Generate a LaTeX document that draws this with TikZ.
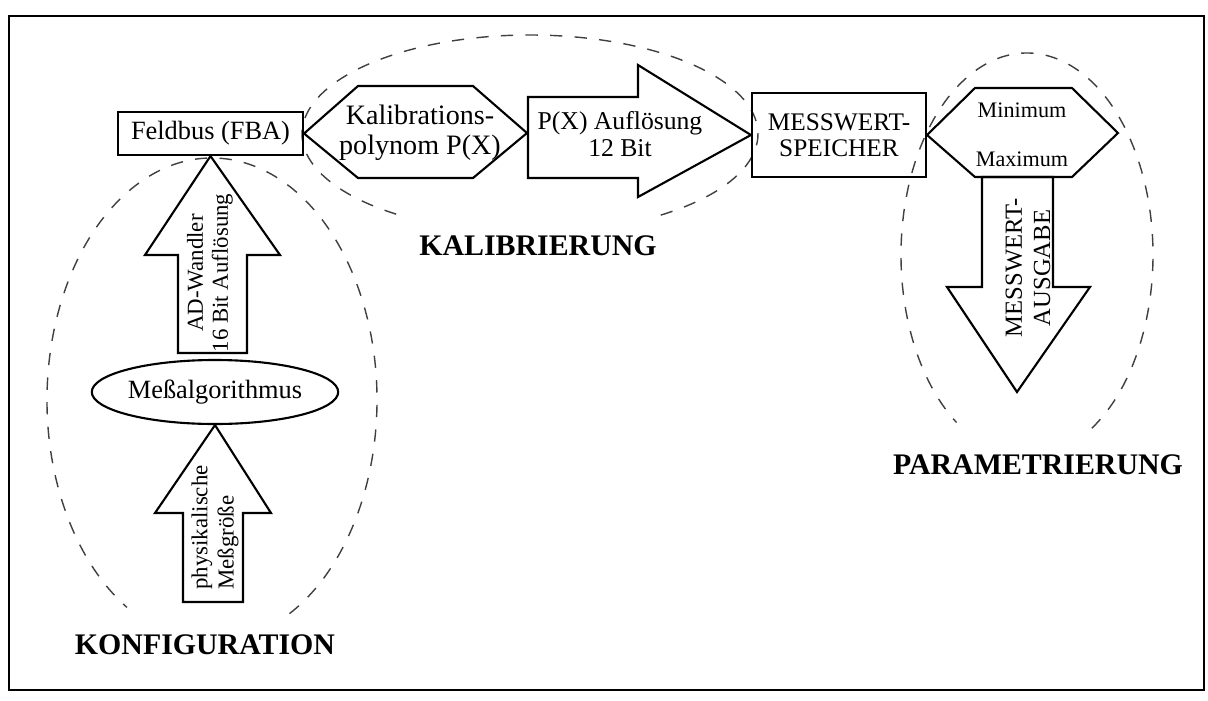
\documentclass[tikz,border=0pt]{standalone}
\usepackage{fontspec}
\setmainfont{Liberation Serif}
\usetikzlibrary{shapes.geometric}
\newcommand{\sz}[2]{\fontsize{#1}{#2}\selectfont}
\tikzstyle{blk} = [draw, line width=0.6pt, line join=miter]
\tikzstyle{boxnode} = [rectangle, draw, line width=0.6pt, inner sep=0pt, align=center]
\tikzstyle{txt} = [inner sep=0pt, align=center]
\tikzstyle{grp} = [draw=black!75, line width=0.4pt, dash pattern=on 3.5pt off 3.5pt]
\tikzstyle{lbl} = [inner sep=0pt, font=\bfseries\sz{8.5}{10}]

\begin{document}
\begin{tikzpicture}
  \useasboundingbox (0, 0) rectangle (12.08, 7);
  \draw[line width=0.6pt] (0.09, 0.10) rectangle (12.04, 6.84);
  % dashed groups, open where the label sits
  \foreach \cx/\cy/\rx/\ry/\a/\b in {2.12/3.00/1.65/2.42/-62/239, 5.30/5.66/2.28/0.99/-55/235, 10.27/4.45/1.26/2.02/-59/236} {
    \draw[grp] (\cx, \cy) ++(\a:\rx cm and \ry cm) arc[start angle=\a, end angle=\b, x radius=\rx cm, y radius=\ry cm];
  }
  \node[lbl] (konf) at (2.05, 0.55) {KONFIGURATION};
  \node[lbl] (kalib) at (5.38, 4.54) {KALIBRIERUNG};
  \node[lbl] (param) at (10.38, 2.35) {PARAMETRIERUNG};

  % top row
  \node[boxnode, minimum width=1.85cm, minimum height=0.43cm, font=\sz{7.5}{8}] (feld) at (2.105, 5.665) {Feldbus (FBA)};
  \draw[blk] (feld.east) -- (3.58, 6.14) -- (4.73, 6.14) -- (5.27, 5.67) -- (4.73, 5.22) -- (3.58, 5.22) -- cycle;
  \node[txt, font=\sz{8}{8.5}] (kal) at (4.20, 5.675) {Kalibrations-\\polynom P(X)};
  \node[boxnode, minimum width=1.74cm, minimum height=0.84cm, font=\sz{7.2}{7.3}] (mess) at (8.39, 5.65) {MESSWERT-\\SPEICHER};
  \draw[blk] (5.28, 6.03) -- (6.38, 6.03) -- (6.38, 6.35) -- (mess.west) -- (6.38, 5.03) -- (6.38, 5.22) -- (5.28, 5.22) -- cycle;
  \node[txt, font=\sz{7.3}{7.8}] (aufl) at (6.20, 5.66) {P(X) Auflösung\\12 Bit};
  \draw[blk] (mess.east) -- (9.75, 6.12) -- (10.72, 6.12) -- (11.18, 5.67) -- (10.72, 5.23) -- (9.75, 5.23) -- cycle;
  \node[txt, font=\sz{6.3}{7}] (minv) at (10.22, 5.895) {Minimum};
  \node[txt, font=\sz{6.3}{7}] (maxv) at (10.22, 5.41) {Maximum};

  % output
  \draw[blk] (9.82, 5.23) -- (9.82, 4.13) -- (9.47, 4.13) -- (10.17, 3.08) -- (10.90, 4.13) -- (10.53, 4.13) -- (10.53, 5.23) -- cycle;
  \node[txt, rotate=90, font=\sz{7}{8}] (ausg) at (10.28, 4.32) {MESSWERT-\\AUSGABE};

  % left column
  \node[ellipse, draw, line width=0.6pt, inner sep=0pt, minimum width=2.32cm, minimum height=0.64cm, font=\sz{7.5}{8}] (alg) at (2.15, 3.08) {Meßalgorithmus};
  \draw[blk] (1.78, 3.47) -- (1.78, 4.45) -- (1.45, 4.45) -- (feld.south) -- (2.80, 4.45) -- (2.47, 4.45) -- (2.47, 3.47) -- cycle;
  \node[txt, rotate=90, font=\sz{6.5}{7.1}] (adw) at (2.10, 4.27) {AD-Wandler\\16 Bit Auflösung};
  \draw[blk] (1.83, 0.98) -- (1.83, 1.87) -- (1.55, 1.87) -- (alg.south) -- (2.71, 1.87) -- (2.43, 1.87) -- (2.43, 0.98) -- cycle;
  \node[txt, rotate=90, align=left, font=\sz{6.5}{7.5}] (phys) at (2.15, 1.725) {physikalische\\Meßgröße};
\end{tikzpicture}
\end{document}
